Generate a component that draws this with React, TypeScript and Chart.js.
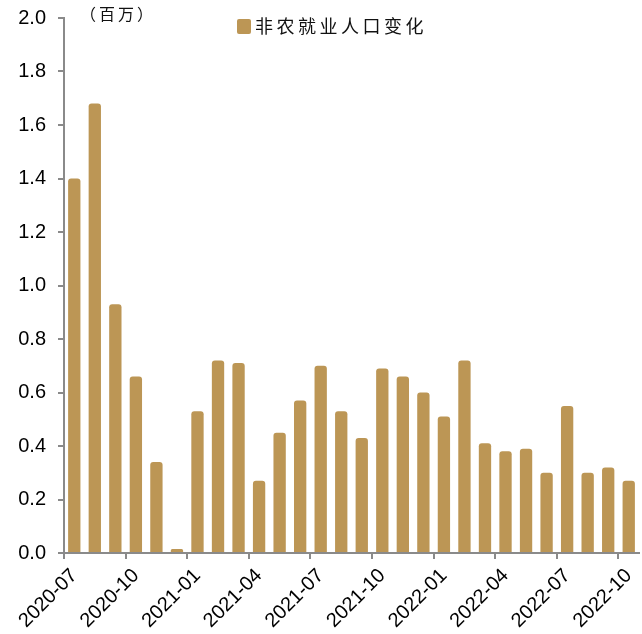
import React, { useEffect, useRef } from "react";
import { Chart, registerables } from "chart.js";

Chart.register(...registerables);

const categories = [
  "2020-07", "2020-08", "2020-09", "2020-10", "2020-11", "2020-12",
  "2021-01", "2021-02", "2021-03", "2021-04", "2021-05", "2021-06",
  "2021-07", "2021-08", "2021-09", "2021-10", "2021-11", "2021-12",
  "2022-01", "2022-02", "2022-03", "2022-04", "2022-05", "2022-06",
  "2022-07", "2022-08", "2022-09", "2022-10",
];

const payrollChange = [
  1.40, 1.68, 0.93, 0.66, 0.34, 0.015,
  0.53, 0.72, 0.71, 0.27, 0.45, 0.57,
  0.70, 0.53, 0.43, 0.69, 0.66, 0.60,
  0.51, 0.72, 0.41, 0.38, 0.39, 0.30,
  0.55, 0.30, 0.32, 0.27,
];

const seriesName = "非农就业人口变化";
const unitLabel = "（百万）";
const barColor = "#BC9655";
const axisColor = "#8a8a8a";

const overlayPlugin = {
  id: "overlay",
  afterDraw(chart: any) {
    const ctx = chart.ctx;
    ctx.save();
    ctx.fillStyle = "#111";
    ctx.font = '16px "Noto Sans CJK SC"';
    ctx.textBaseline = "middle";
    ctx.textAlign = "left";
    (ctx as any).letterSpacing = "3px";
    ctx.fillText(unitLabel, 80, 14);
    ctx.fillStyle = barColor;
    ctx.beginPath();
    (ctx as any).roundRect ? (ctx as any).roundRect(237, 19, 14, 15, 2) : ctx.rect(237, 19, 14, 15);
    ctx.fill();
    ctx.fillStyle = "#111";
    ctx.font = '18px "Noto Sans CJK SC"';
    (ctx as any).letterSpacing = "3.5px";
    ctx.fillText(seriesName, 255, 26);
    ctx.restore();
  },
};

export default function App() {
  const ref = useRef<HTMLCanvasElement | null>(null);
  useEffect(() => {
    if (!ref.current) return;
    const chart = new Chart(ref.current, {
      type: "bar",
      data: {
        labels: categories,
        datasets: [
          {
            label: seriesName,
            data: payrollChange,
            backgroundColor: barColor,
            barPercentage: 0.6,
            categoryPercentage: 1,
            borderRadius: { topLeft: 3, topRight: 3, bottomLeft: 0, bottomRight: 0 },
            borderSkipped: "start",
          },
        ],
      },
      options: {
        animation: false,
        responsive: true,
        maintainAspectRatio: false,
        layout: { padding: { left: 0, right: 3, top: 18, bottom: 0 } },
        plugins: {
          legend: { display: false },
          tooltip: { enabled: false },
        },
        scales: {
          x: {
            grid: {
              display: true,
              offset: true,
              drawOnChartArea: false,
              drawTicks: true,
              tickLength: 6,
              lineWidth: 2,
              color: (c: any) => (c.index % 3 === 0 ? axisColor : "rgba(0,0,0,0)"),
            },
            border: { display: true, color: axisColor, width: 2 },
            ticks: {
              autoSkip: false,
              maxRotation: 45,
              minRotation: 45,
              padding: 5,
              color: "#000",
              font: { family: '"Liberation Sans", Arial', size: 20 },
              callback: (_v: any, i: number) => (i % 3 === 0 ? categories[i] : ""),
            },
            afterFit: (s: any) => {
              s.height = 81;
              s.paddingLeft = 0;
              s.paddingRight = 0;
            },
          },
          y: {
            min: 0,
            max: 2,
            grid: {
              display: true,
              drawOnChartArea: false,
              drawTicks: true,
              tickLength: 6,
              lineWidth: 2,
              color: axisColor,
            },
            border: { display: true, color: axisColor, width: 2 },
            ticks: {
              stepSize: 0.2,
              padding: 12,
              color: "#000",
              font: { family: '"Liberation Sans", Arial', size: 20 },
              callback: (v: any) => Number(v).toFixed(1),
            },
            afterFit: (s: any) => {
              s.width = 64;
              s.paddingTop = 0;
              s.paddingBottom = 0;
            },
          },
        },
      },
      plugins: [overlayPlugin],
    });
    return () => chart.destroy();
  }, []);
  return (
    <div style={{ position: "absolute", left: 0, top: 0, width: 642, height: 634 }}>
      <canvas ref={ref} />
    </div>
  );
}
